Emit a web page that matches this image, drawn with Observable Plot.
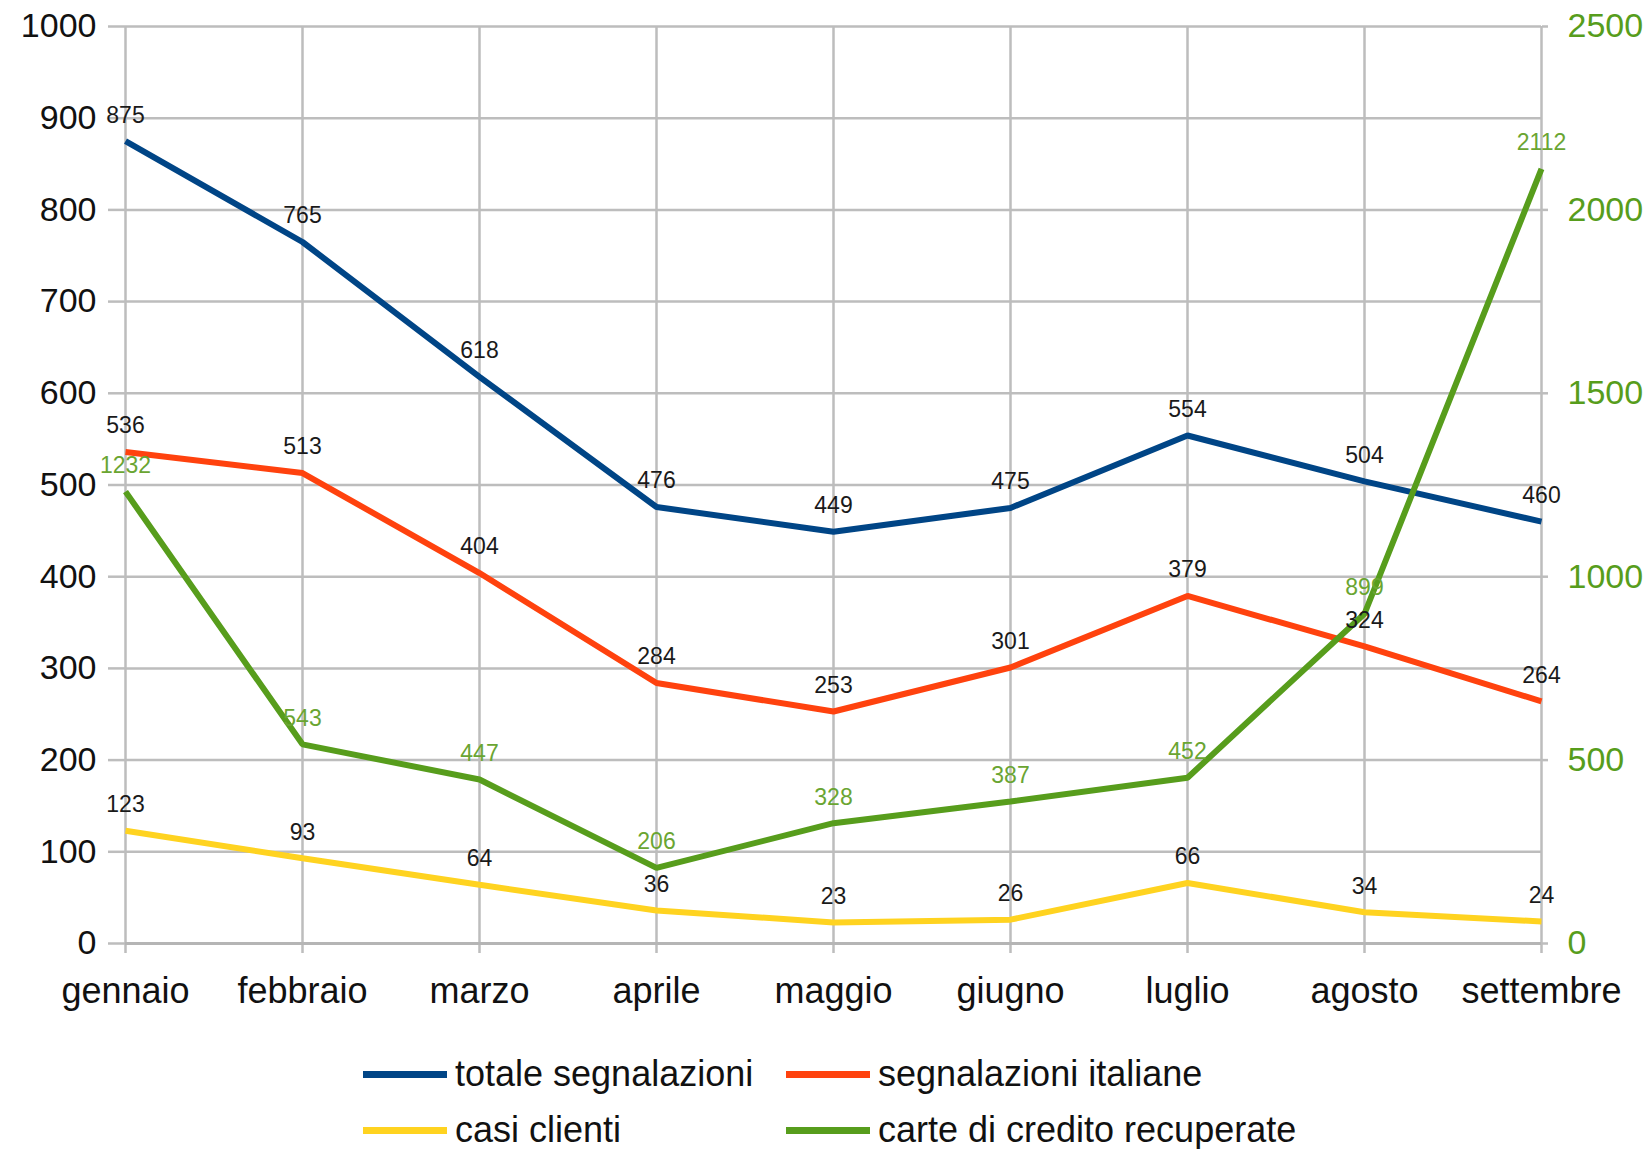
<!DOCTYPE html>
<html>
<head>
<meta charset="utf-8">
<script src="https://cdn.jsdelivr.net/npm/d3@7"></script>
<script src="https://cdn.jsdelivr.net/npm/@observablehq/plot@0.6"></script>
<style>
  html, body { margin: 0; padding: 0; background: #fff; }
  body { width: 1648px; height: 1149px; position: relative; overflow: hidden; font-family: "Liberation Sans", Arial, sans-serif; }
  #chart svg { display: block; }
  .leg { position: absolute; display: flex; align-items: center; font-size: 36px; color: #111; white-space: nowrap; }
  .leg .sw { width: 84px; height: 7px; margin-right: 8px; }
</style>
</head>
<body>
<div id="chart"></div>
<div id="legend"></div>
<script>
const months = ["gennaio","febbraio","marzo","aprile","maggio","giugno","luglio","agosto","settembre"];
const totaleSegnalazioni = [875, 765, 618, 476, 449, 475, 554, 504, 460];
const segnalazioniItaliane = [536, 513, 404, 284, 253, 301, 379, 324, 264];
const casiClienti = [123, 93, 64, 36, 23, 26, 66, 34, 24];
const carteRecuperate = [1232, 543, 447, 206, 328, 387, 452, 899, 2112];
const leftTicks = [0,100,200,300,400,500,600,700,800,900,1000];
const rightTicks = [0,500,1000,1500,2000,2500];

const seriesNames = ["totale segnalazioni","segnalazioni italiane","casi clienti","carte di credito recuperate"];
const seriesColors = ["#004586","#ff420e","#ffd320","#579d1c"];
const rightMax = 2500, leftMax = 1000;
const k = leftMax / rightMax;

const rows = [];
[totaleSegnalazioni, segnalazioniItaliane, casiClienti].forEach((arr, s) => {
  arr.forEach((v, i) => rows.push({series: seriesNames[s], month: months[i], value: v, y: v, right: false}));
});
carteRecuperate.forEach((v, i) => rows.push({series: seriesNames[3], month: months[i], value: v, y: v * k, right: true}));

const W = 1648, H = 1040;
const chart = Plot.plot({
  width: W, height: H,
  marginTop: 26, marginBottom: H - 943, marginLeft: 125, marginRight: W - 1541,
  style: {fontFamily: "Liberation Sans, Arial, sans-serif", background: "#fff"},
  x: {type: "point", domain: months, padding: 0, label: null},
  y: {domain: [0, leftMax], label: null},
  color: {domain: seriesNames, range: seriesColors},
  marks: [
    Plot.gridY(leftTicks, {stroke: "#bdbdbd", strokeOpacity: 1, strokeWidth: 2.5}),
    Plot.gridX(months, {stroke: "#bdbdbd", strokeOpacity: 1, strokeWidth: 2.5}),
    Plot.axisY(leftTicks, {anchor: "left", tickSize: 17, tickPadding: 12, fontSize: 34, stroke: "#bdbdbd", strokeWidth: 2.5, fill: "#111", tickFormat: d => String(d), label: null}),
    Plot.axisY(rightTicks.map(v => v * k), {anchor: "right", tickSize: 12, tickPadding: 14, fontSize: 34, stroke: "#bdbdbd", strokeWidth: 2.5, strokeDasharray: "6,6", fill: "#579d1c", tickFormat: d => String(Math.round(d / k)), label: null}),
    Plot.axisX(months, {anchor: "bottom", tickSize: 10, tickPadding: 24, fontSize: 36, stroke: "#bdbdbd", strokeWidth: 2.5, fill: "#111", label: null}),
    Plot.ruleY([0], {stroke: "#b5b5b5", strokeWidth: 3}),
    Plot.line(rows, {x: "month", y: "y", z: "series", stroke: "series", strokeWidth: 6, strokeLinejoin: "miter", strokeLinecap: "butt"}),
    Plot.text(rows, {x: "month", y: "y", text: d => String(d.value), dy: -26, fontSize: 23, fill: d => d.right ? "#6aa532" : "#1a1a1a"})
  ]
});
document.getElementById("chart").appendChild(chart);

const legendPos = [
  {left: 363, top: 1074},
  {left: 786, top: 1074},
  {left: 363, top: 1130},
  {left: 786, top: 1130}
];
const legend = document.getElementById("legend");
seriesNames.forEach((name, i) => {
  const d = document.createElement("div");
  d.className = "leg";
  d.style.left = legendPos[i].left + "px";
  d.style.top = (legendPos[i].top - 22) + "px";
  d.style.height = "44px";
  const sw = document.createElement("span");
  sw.className = "sw";
  sw.style.background = seriesColors[i];
  const t = document.createElement("span");
  t.textContent = name;
  d.appendChild(sw); d.appendChild(t);
  legend.appendChild(d);
});
</script>
</body>
</html>
